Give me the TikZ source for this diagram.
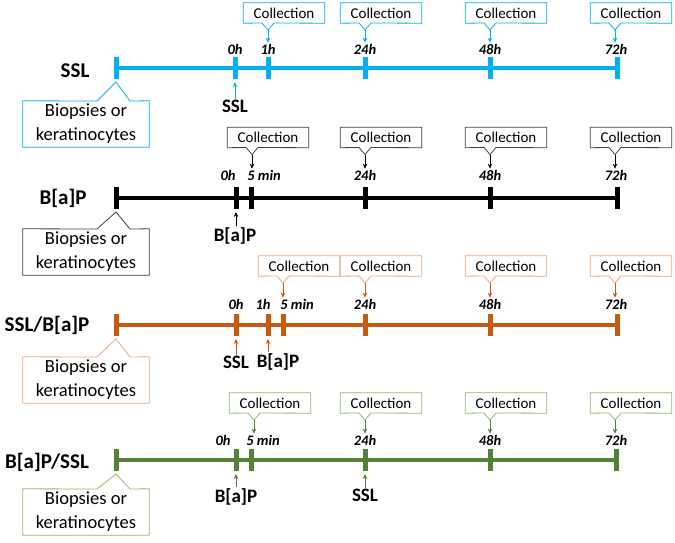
\documentclass[tikz,border=0pt]{standalone}
\usepackage{fontspec}
\setmainfont{Carlito}
\usetikzlibrary{arrows.meta}
\definecolor{sslblue}{HTML}{00B0F0}
\definecolor{mixorange}{HTML}{C55A11}
\definecolor{orangeedge}{HTML}{E9A67C}
\definecolor{mixgreen}{HTML}{548235}
\definecolor{greenedge}{HTML}{8DB870}
\definecolor{blackedge}{HTML}{404040}

\begin{document}
\begin{tikzpicture}[x=1pt,y=-1pt,
    timeline/.style={line width=4pt},
    tickmark/.style={line width=5pt},
    hour/.style={font=\fontsize{14.5}{16}\selectfont\bfseries\itshape, inner sep=1pt},
    rowlabel/.style={font=\fontsize{21}{24}\selectfont\bfseries},
    agent/.style={font=\fontsize{19}{22}\selectfont\bfseries, inner sep=1pt},
    feed/.style={-{Stealth[length=5pt,width=4.5pt]}, line width=0.8pt},
    outline/.style={line width=0.8pt, line join=miter},
    collect/.style={minimum width=81pt, minimum height=20pt, inner sep=0pt,
        font=\fontsize{15}{16}\selectfont},
    sample/.style={align=center, minimum width=126pt, minimum height=46pt, inner sep=0pt,
        font=\fontsize{18.5}{24}\selectfont}]
    \useasboundingbox (0,0) rectangle (675,543);

    % SSL
    \draw[timeline, sslblue] (116,68) -- (617,68);
    \foreach \x/\n in {116/s,235/0h,268/1h,365/24h,490/48h,617/72h}
        \draw[tickmark, sslblue] (\x,57) -- (\x,79) coordinate (at\n);
    \node[rowlabel] (ssl) at (75,71) {SSL};
    \node[hour] (a0h) at (235,49) {0h};
    \node[hour] (a1h) at (268,49) {1h};
    \node[hour] (a24h) at (365,49) {24h};
    \node[hour] (a48h) at (490,49) {48h};
    \node[hour] (a72h) at (616,49) {72h};
    \foreach \h/\p in {1h/268,24h/365,48h/490,72h/615} {
        \node[collect] (ac\h) at (\p+16,13) {Collection};
        \draw[outline, sslblue] (ac\h.south west) -- (\p-6,23) -- (\p,30) coordinate (ap\h)
            -- (\p+6,23) -- (ac\h.south east) -- (ac\h.north east) -- (ac\h.north west) -- cycle;
        \draw[feed, sslblue] (ap\h) -- (ap\h |- a\h.north);
    }
    \node[agent] (assl) at (235,106) {SSL};
    \draw[feed, sslblue, shorten >=3pt] (assl.north) -- (at0h);
    \node[sample] (abio) at (86,124) {Biopsies or\\keratinocytes};
    \draw[outline, sslblue] (abio.south west) -- (abio.north west) -- (97,101)
        -- ([yshift=-3pt]ats) -- (130,101) -- (abio.north east) -- (abio.south east) -- cycle;

    % B[a]P
    \draw[timeline] (116,198) -- (617,198);
    \foreach \x/\n in {116/s,236/0h,251/5min,365/24h,490/48h,617/72h}
        \draw[tickmark] (\x,187) -- (\x,209) coordinate (bt\n);
    \node[rowlabel] (bap) at (63,198) {B[a]P};
    \node[hour] (b0h) at (228,175) {0h};
    \node[hour] (b5min) at (264,175) {5 min};
    \node[hour] (b24h) at (365,175) {24h};
    \node[hour] (b48h) at (490,175) {48h};
    \node[hour] (b72h) at (616,175) {72h};
    \foreach \h/\p in {5min/252,24h/365,48h/490,72h/615} {
        \node[collect] (bc\h) at (\p+16,137.5) {Collection};
        \draw[outline, blackedge] (bc\h.south west) -- (\p-6,147.5) -- (\p,154.5) coordinate (bp\h)
            -- (\p+6,147.5) -- (bc\h.south east) -- (bc\h.north east) -- (bc\h.north west) -- cycle;
        \draw[feed] (bp\h) -- (bp\h |- b\h.north);
    }
    \node[agent] (bbap) at (235,236) {B[a]P};
    \draw[feed, shorten >=3pt] (bbap.north -| bt0h) -- (bt0h);
    \node[sample] (bbio) at (86,252) {Biopsies or\\keratinocytes};
    \draw[outline, blackedge] (bbio.south west) -- (bbio.north west) -- (97,229)
        -- ([yshift=-3pt]bts) -- (130,229) -- (bbio.north east) -- (bbio.south east) -- cycle;

    % SSL/B[a]P
    \draw[timeline, mixorange] (116,325) -- (617,325);
    \foreach \x/\n in {116/s,236/0h,268/1h,283/5min,365/24h,490/48h,617/72h}
        \draw[tickmark, mixorange] (\x,314) -- (\x,336) coordinate (ct\n);
    \node[rowlabel] (sslbap) at (47,325) {SSL/B[a]P};
    \node[hour] (c0h) at (236,304) {0h};
    \node[hour] (c1h) at (263,304) {1h};
    \node[hour] (c5min) at (297,304) {5 min};
    \node[hour] (c24h) at (365,304) {24h};
    \node[hour] (c48h) at (490,304) {48h};
    \node[hour] (c72h) at (616,304) {72h};
    \foreach \h/\p in {5min/283,24h/365,48h/490,72h/615} {
        \node[collect] (cc\h) at (\p+16,266) {Collection};
        \draw[outline, orangeedge] (cc\h.south west) -- (\p-6,276) -- (\p,283) coordinate (cp\h)
            -- (\p+6,276) -- (cc\h.south east) -- (cc\h.north east) -- (cc\h.north west) -- cycle;
        \draw[feed, mixorange] (cp\h) -- (cp\h |- c\h.north);
    }
    \node[agent] (cssl) at (236,362) {SSL};
    \node[agent] (cbap) at (278,362) {B[a]P};
    \draw[feed, mixorange, shorten >=3pt] (cssl.north -| ct0h) -- (ct0h);
    \draw[feed, mixorange, shorten >=3pt] (cbap.north -| ct1h) -- (ct1h);
    \node[sample] (cbio) at (86,380) {Biopsies or\\keratinocytes};
    \draw[outline, orangeedge] (cbio.south west) -- (cbio.north west) -- (97,357)
        -- ([yshift=-3pt]cts) -- (130,357) -- (cbio.north east) -- (cbio.south east) -- cycle;

    % B[a]P/SSL
    \draw[timeline, mixgreen] (116,460) -- (616,460);
    \foreach \x/\n in {116/s,236/0h,251/5min,365/24h,490/48h,616/72h}
        \draw[tickmark, mixgreen] (\x,449) -- (\x,471) coordinate (dt\n);
    \node[rowlabel] (bapssl) at (47,462) {B[a]P/SSL};
    \node[hour] (d0h) at (223,440) {0h};
    \node[hour] (d5min) at (263,440) {5 min};
    \node[hour] (d24h) at (365,440) {24h};
    \node[hour] (d48h) at (490,440) {48h};
    \node[hour] (d72h) at (616,440) {72h};
    \foreach \h/\p in {5min/254,24h/365,48h/490,72h/615} {
        \node[collect] (dc\h) at (\p+16,403) {Collection};
        \draw[outline, greenedge] (dc\h.south west) -- (\p-6,413) -- (\p,420) coordinate (dp\h)
            -- (\p+6,413) -- (dc\h.south east) -- (dc\h.north east) -- (dc\h.north west) -- cycle;
        \draw[feed, mixgreen] (dp\h) -- (dp\h |- d\h.north);
    }
    \node[agent] (dbap) at (236,497) {B[a]P};
    \node[agent] (dssl) at (365,495) {SSL};
    \draw[feed, mixgreen, shorten >=3pt] (dbap.north -| dt0h) -- (dt0h);
    \draw[feed, mixgreen, shorten >=3pt] (dssl.north -| dt24h) -- (dt24h);
    \node[sample] (dbio) at (86,512) {Biopsies or\\keratinocytes};
    \draw[outline, greenedge] (dbio.south west) -- (dbio.north west) -- (97,489)
        -- ([yshift=-3pt]dts) -- (130,489) -- (dbio.north east) -- (dbio.south east) -- cycle;
\end{tikzpicture}
\end{document}
